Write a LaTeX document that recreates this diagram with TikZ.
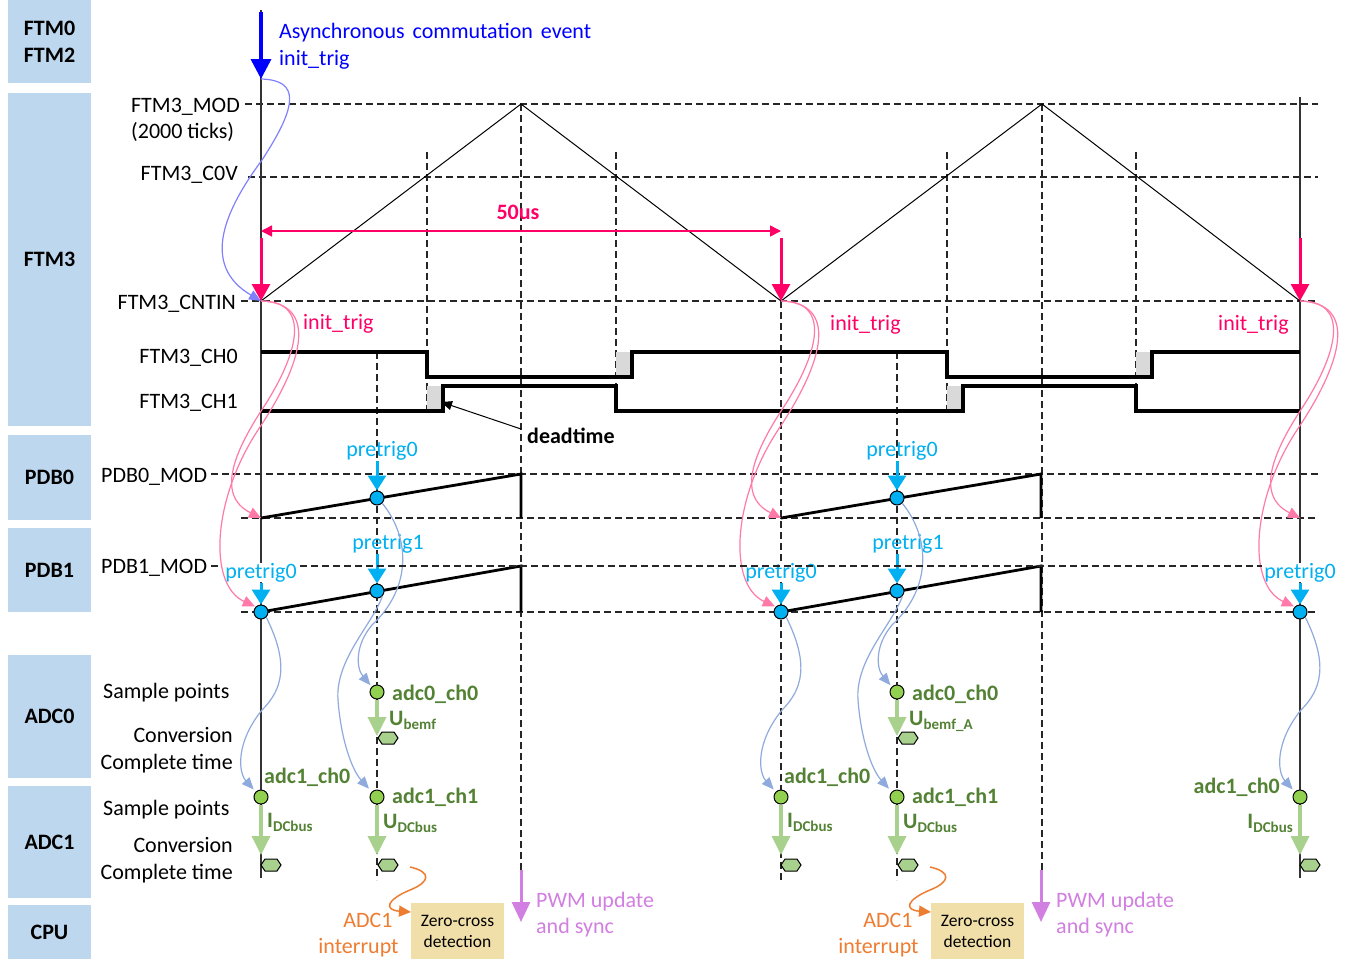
\documentclass[tikz,border=0pt]{standalone}
\usepackage{fontspec}
\setmainfont{Carlito}
\usetikzlibrary{arrows.meta}
\definecolor{boxblue}{HTML}{BDD7EE}
\definecolor{crim}{HTML}{FF0066}
\definecolor{pureblue}{HTML}{0000FF}
\definecolor{lav}{HTML}{8080FF}
\definecolor{pinkc}{HTML}{FF7AA8}
\definecolor{cyanc}{HTML}{00B0F0}
\definecolor{lblue}{HTML}{8FAADC}
\definecolor{gdotc}{HTML}{92D050}
\definecolor{dkgreen}{HTML}{548235}
\definecolor{lgreen}{HTML}{A9D18E}
\definecolor{orng}{HTML}{ED7D31}
\definecolor{tanbox}{HTML}{F0DFA8}
\definecolor{violetc}{HTML}{D17FE0}
\definecolor{greyd}{HTML}{D9D9D9}
\newcommand{\sbs}[1]{\raisebox{-4.5pt}{\fontsize{15}{15}\selectfont #1}}
\tikzset{
 lbox/.style={fill=boxblue, inner sep=0pt, align=center, font=\bfseries\fontsize{22}{27}\selectfont},
 rowlbl/.style={inner sep=0pt, font=\fontsize{22}{26}\selectfont},
 dline/.style={dash pattern=on 7pt off 4pt, line width=1.1pt, black!85},
 wave/.style={line width=3.2pt, black},
 ramp/.style={line width=2.8pt, black},
 tri/.style={line width=1pt, black},
 trigarrow/.style={draw=crim, line width=3pt, -{Triangle[width=18pt,length=17pt]}},
 cyanarrow/.style={draw=cyanc, line width=3pt, -{Triangle[width=18pt,length=15pt]}},
 garrow/.style={draw=lgreen, line width=3.5pt, -{Triangle[width=18pt,length=19pt]}},
 varrow/.style={draw=violetc, line width=3pt, -{Triangle[width=18pt,length=20pt]}},
 pinkcurve/.style={draw=pinkc, line width=1.2pt, -{Triangle[width=11pt,length=12pt]}},
 lbcurve/.style={draw=lblue, line width=1.2pt, -{Triangle[width=10pt,length=12pt]}},
 oarrow/.style={draw=orng, line width=1.5pt, -{Triangle[width=11pt,length=12pt]}},
 cdot/.style={circle, draw=black, fill=cyanc, line width=1pt, minimum size=14pt, inner sep=0pt},
 gdot/.style={circle, draw=black, fill=gdotc, line width=1pt, minimum size=14pt, inner sep=0pt},
 hexd/.style={draw=black, fill=lgreen, line width=1pt, line join=miter},
 cyanlbl/.style={inner sep=0pt, text=cyanc, font=\fontsize{22}{26}\selectfont},
 crimlbl/.style={inner sep=0pt, text=crim, font=\fontsize{22}{26}\selectfont},
 adclbl/.style={inner sep=0pt, text=dkgreen, font=\bfseries\fontsize{22}{26}\selectfont},
 orlbl/.style={inner sep=0pt, text=orng, font=\fontsize{22}{26}\selectfont},
 vlbl/.style={inner sep=0pt, text=violetc, font=\fontsize{22}{26}\selectfont},
 zbox/.style={fill=tanbox, inner sep=0pt, minimum width=93pt, minimum height=56pt, align=center, font=\fontsize{17.5}{21}\selectfont},
}
\begin{document}
\begin{tikzpicture}[x=1pt,y=-1pt]
\path[use as bounding box, fill=white] (0,0) rectangle (1348,959);

% left label boxes
\node[lbox, minimum width=83pt, minimum height=83pt] (bF0) at (49.5,41.5) {FTM0\\FTM2};
\node[lbox, minimum width=83pt, minimum height=333pt] (bF3) at (49.5,259.5) {FTM3};
\node[lbox, minimum width=83pt, minimum height=85pt] (bP0) at (49.5,477.5) {PDB0};
\node[lbox, minimum width=83pt, minimum height=84pt] (bP1) at (49.5,570) {PDB1};
\node[lbox, minimum width=83pt, minimum height=123pt] (bA0) at (49.5,716.5) {ADC0};
\node[lbox, minimum width=83pt, minimum height=112pt] (bA1) at (49.5,842) {ADC1};
\node[lbox, minimum width=83pt, minimum height=54pt] (bC) at (49.5,932) {CPU};

% row labels
\node[rowlbl, anchor=base east] (lmod) at (240,112) {FTM3\_MOD};
\node[rowlbl, anchor=base west] (lticks) at (131,138) {(2000 ticks)};
\node[rowlbl, anchor=base east] (lcov) at (238,180) {FTM3\_C0V};
\node[rowlbl, anchor=base east] (lcnt) at (236,309) {FTM3\_CNTIN};
\node[rowlbl, anchor=base east] (lch0) at (238,363) {FTM3\_CH0};
\node[rowlbl, anchor=base east] (lch1) at (238,408) {FTM3\_CH1};
\node[rowlbl, anchor=base west] (lp0) at (101,482) {PDB0\_MOD};
\node[rowlbl, anchor=base west] (lp1) at (101,573) {PDB1\_MOD};
\node[rowlbl, anchor=base west] (ls0) at (103,698) {Sample points};
\node[rowlbl, anchor=base east] (lc0a) at (233,742) {Conversion};
\node[rowlbl, anchor=base east] (lc0b) at (233,769) {Complete time};
\node[rowlbl, anchor=base west] (ls1) at (103,815) {Sample points};
\node[rowlbl, anchor=base east] (lc1a) at (233,852) {Conversion};
\node[rowlbl, anchor=base east] (lc1b) at (233,879) {Complete time};

% horizontal dashed levels
\draw[dline] (245,104) -- (1318,104);
\draw[dline] (248,177) -- (1318,177);
\draw[dline] (241,301) -- (1318,301);
\draw[dline] (211,474) -- (1318,474);
\draw[dline] (241,518) -- (1318,518);
\draw[dline] (241,612) -- (1318,612);

% vertical dashed lines
\foreach \x/\a/\b in {427/152/415, 521/104/870, 616/152/415, 377/352/880, 781/301/880, 897/352/880, 947/152/415, 1042/104/870, 1136/152/415}
  \draw[dline] (\x,\a) -- (\x,\b);

% solid verticals
\draw[line width=1.4pt, black!80] (261,10) -- (261,878);
\draw[line width=1.4pt, black!80] (1300,97) -- (1300,878);

% FTM3 counter
\draw[tri] (261,301) -- (521,104) -- (781,301) -- (1042,104) -- (1300,301);

% deadtime grey
\foreach \d in {0,520} {
  \fill[greyd] (427+\d,386) rectangle (443+\d,411);
  \fill[greyd] (616+\d,352) rectangle (632+\d,377);
}
% PWM channels
\draw[wave] (261,352) -- (427,352) -- (427,377) -- (632,377) -- (632,352) -- (947,352) -- (947,377) -- (1152,377) -- (1152,352) -- (1300,352);
\draw[wave] (261,411) -- (443,411) -- (443,386) -- (616,386) -- (616,411) -- (963,411) -- (963,386) -- (1136,386) -- (1136,411) -- (1300,411);

% deadtime pointer
\node[inner sep=0pt, anchor=base west, font=\bfseries\fontsize{22}{26}\selectfont] (dt) at (527,443) {deadtime};
\coordinate (dtS) at (521,429);
\coordinate (dtT) at (441,402);
\draw[line width=1pt, -{Triangle[width=9pt,length=11pt]}] (dtS) -- (dtT);

% asynchronous event
\coordinate (bA) at (261,12);
\coordinate (bB) at (261,79);
\draw[line width=3.5pt, pureblue, -{Triangle[width=20pt,length=20pt]}] (bA) -- (bB);
\node[inner sep=0pt, anchor=base west, text=pureblue, font=\fontsize{22}{26}\selectfont] (async) at (279,38) {Asynchronous\hspace{3pt} commutation\hspace{3pt} event};
\node[inner sep=0pt, anchor=base west, text=pureblue, font=\fontsize{22}{26}\selectfont] (ait) at (279,65) {init\_trig};

% 50us
\coordinate (m0) at (261,231);
\coordinate (m1) at (781,231);
\draw[crim, line width=1.5pt, {Triangle[width=11pt,length=11pt]}-{Triangle[width=11pt,length=11pt]}] (m0) -- (m1);
\node[inner sep=0pt, anchor=base, text=crim, font=\bfseries\fontsize{22}{26}\selectfont] (us) at (518,219) {50us};

% init_trig labels
\node[crimlbl, anchor=base west] (it0) at (303,329) {init\_trig};
\node[crimlbl, anchor=base west] (it1) at (830,330) {init\_trig};
\node[crimlbl, anchor=base west] (it2) at (1218,330) {init\_trig};

% PDB ramps, circles, ADC, CPU for the two full periods
\foreach \i/\d/\sub in {0/0/bemf,1/520/bemf\_A} {
\begin{scope}[xshift=\d pt]
  \draw[ramp] (261,518) -- (521,474) -- (521,518);
  \draw[ramp] (261,612) -- (521,566) -- (521,612);
  \node[cdot] (r\i) at (377,498) {};
  \node[cdot] (u\i) at (377,591) {};
  \node[cyanlbl, anchor=base] (pr\i) at (382,456) {pretrig0};
  \node[cyanlbl, anchor=base] (pq\i) at (388,549) {pretrig1};
  \coordinate (rt\i) at (377,461);
  \coordinate (ut\i) at (377,554);
  \draw[cyanarrow] (rt\i) -- (r\i.north);
  \draw[cyanarrow] (ut\i) -- (u\i.north);
  % ADC0 ch0
  \node[gdot] (a\i) at (377,692) {};
  \coordinate (ha\i) at (388,738);
  \coordinate (ae\i) at (377,736);
  \draw[garrow] (a\i.south) -- (ae\i);
  \draw[hexd] (ha\i) ++(-10,0) -- ++(4,-6) -- ++(12,0) -- ++(4,6) -- ++(-4,6) -- ++(-12,0) -- cycle;
  \node[adclbl, anchor=base west] (al\i) at (392,700) {adc0\_ch0};
  \node[adclbl, anchor=base west] (ul\i) at (389,725) {U\sbs{\sub}};
  % ADC1 ch1
  \node[gdot] (b\i) at (377,797) {};
  \coordinate (hb\i) at (388,865);
  \coordinate (be\i) at (377,855);
  \draw[garrow] (b\i.south) -- (be\i);
  \draw[hexd] (hb\i) ++(-10,0) -- ++(4,-6) -- ++(12,0) -- ++(4,6) -- ++(-4,6) -- ++(-12,0) -- cycle;
  \node[adclbl, anchor=base west] (bl\i) at (392,803) {adc1\_ch1};
  \node[adclbl, anchor=base west] (vl\i) at (383,828) {U\sbs{DCbus}};
  % ADC1 ch0 labels
  \node[adclbl, anchor=base west] (cl\i) at (264,783) {adc1\_ch0};
  \node[adclbl, anchor=base west] (il\i) at (267,827) {I\sbs{DCbus}};
  % trigger curves to ADC
  \draw[lbcurve, shorten >=2pt] (r\i.south east) .. controls (412,540) and (410,590) .. (372,625) .. controls (355,645) and (356,668) .. (a\i.north west);
  \draw[lbcurve, shorten >=4pt] (u\i.south east) .. controls (372,625) and (335,660) .. (338,700) .. controls (341,740) and (352,770) .. (b\i.north west);
  % CPU
  \node[zbox] (z\i) at (457.5,931) {Zero-cross\\detection};
  \coordinate (os\i) at (410,867);
  \coordinate (oe\i) at (411,912);
  \draw[oarrow] (os\i) .. controls (432,872) and (430,882) .. (410,890) .. controls (386,900) and (384,910) .. (oe\i);
  \node[orlbl, anchor=base] (ad\i) at (368,927) {ADC1};
  \node[orlbl, anchor=base] (in\i) at (358.5,953) {interrupt};
  % PWM update
  \coordinate (vs\i) at (521,870);
  \coordinate (ve\i) at (521,922);
  \draw[varrow] (vs\i) -- (ve\i);
  \node[vlbl, anchor=base west] (pw\i) at (536,907) {PWM update};
  \node[vlbl, anchor=base west] (sy\i) at (536,933) {and sync};
\end{scope}
}

% common parts of each init_trig
\foreach \i/\d in {0/0,1/520,2/1039} {
\begin{scope}[xshift=\d pt]
  \coordinate (cn\i) at (261,301);
  \coordinate (ta\i) at (261,238);
  \coordinate (pb\i) at (261,518);
  \draw[trigarrow] (ta\i) -- (cn\i);
  \node[cyanlbl, anchor=base, fill=white] (pt\i) at (261,578) {pretrig0};
  \node[cdot] (q\i) at (261,612) {};
  \coordinate (pa\i) at (261,583);
  \draw[cyanarrow] (pa\i) -- (q\i.north);
  \draw[pinkcurve] (cn\i) .. controls (310,301) and (300,350) .. (265,405) .. controls (235,450) and (215,495) .. (pb\i);
  \draw[pinkcurve, shorten >=1pt] (cn\i) .. controls (318,303) and (305,360) .. (258,430) .. controls (212,500) and (208,585) .. (q\i.north west);
  \node[gdot] (s\i) at (261,797) {};
  \coordinate (hs\i) at (271,865);
  \coordinate (se\i) at (261,855);
  \draw[garrow] (s\i.south) -- (se\i);
  \draw[hexd] (hs\i) ++(-10,0) -- ++(4,-6) -- ++(12,0) -- ++(4,6) -- ++(-4,6) -- ++(-12,0) -- cycle;
  \draw[lbcurve, shorten >=3pt] (q\i.south east) .. controls (290,665) and (282,690) .. (262,710) .. controls (236,742) and (238,772) .. (s\i.north west);
\end{scope}
}
\node[adclbl, anchor=base east] (cl2) at (1280,793) {adc1\_ch0};
\node[adclbl, anchor=base east] (il2) at (1293,828) {I\sbs{DCbus}};

% PDB1_MOD level (drawn over labels)
\draw[dline] (211,566) -- (222,566);
\draw[dline] (300,566) -- (1262,566);

% initial trigger from asynchronous event
\draw[lav, line width=1.2pt, -{Triangle[width=10pt,length=12pt]}] (bB) .. controls (300,80) and (298,105) .. (262,160) .. controls (225,210) and (200,265) .. (cn0);
\end{tikzpicture}
\end{document}
